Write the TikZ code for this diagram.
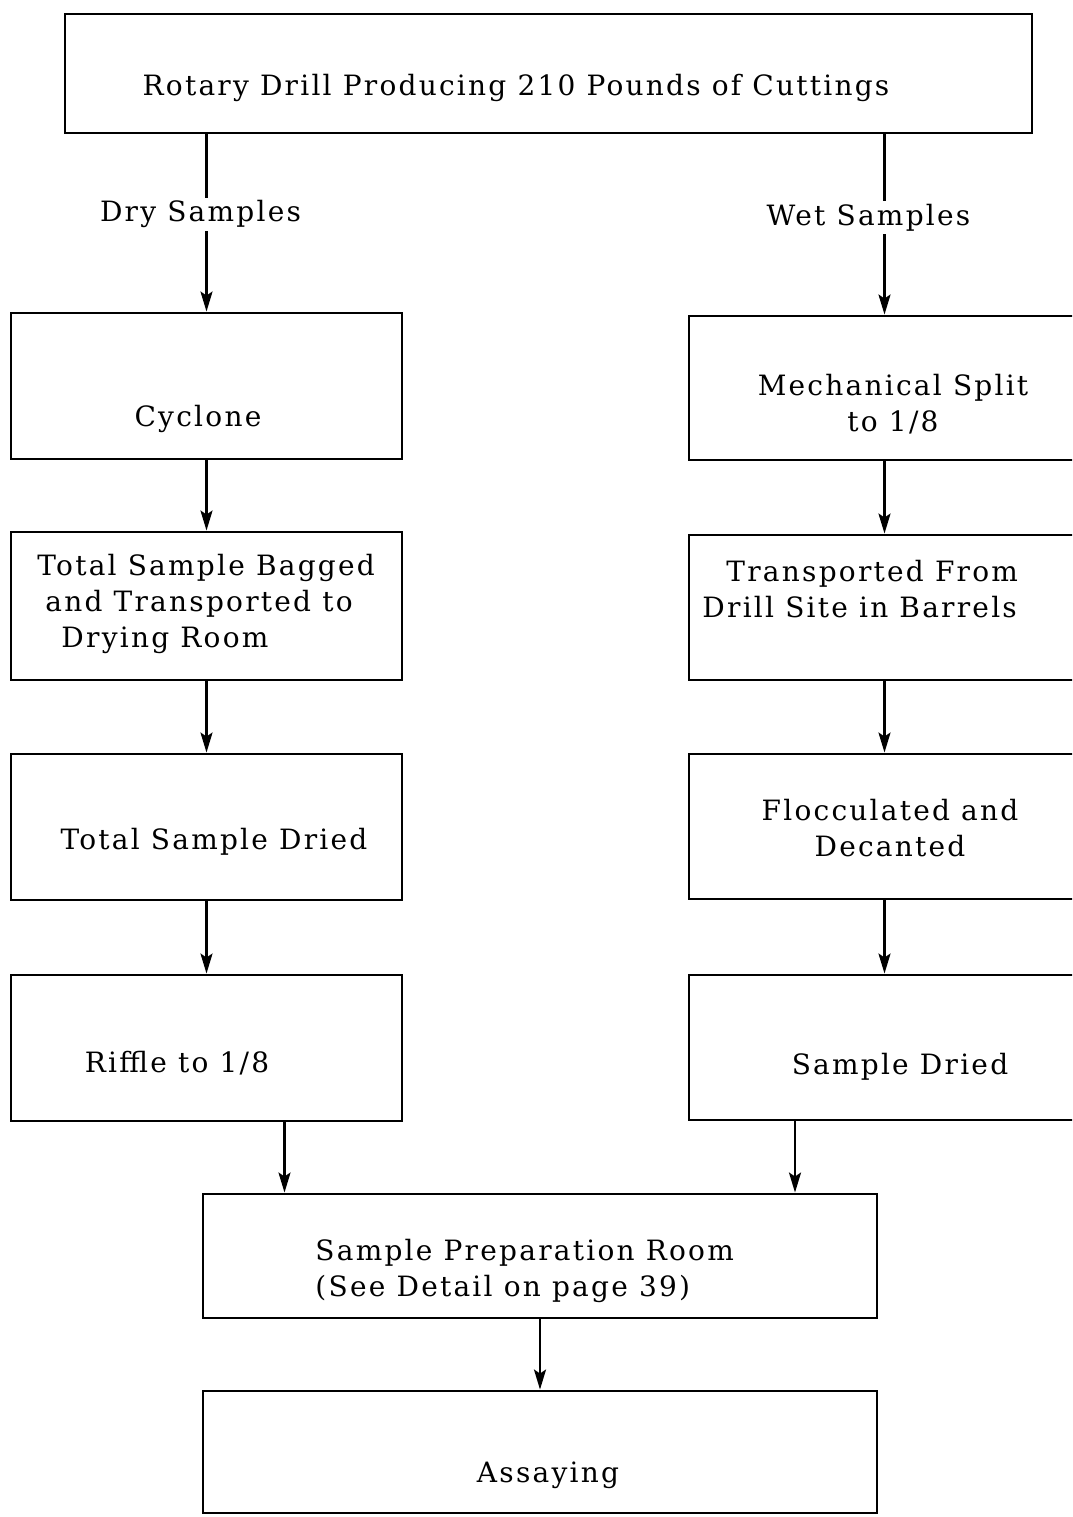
\documentclass[tikz,border=0pt]{standalone}
\usepackage{fontspec}
\usetikzlibrary{arrows.meta,calc}
\newfontfamily\flowfont{DejaVu Serif}[LetterSpace=8]

\tikzset{every picture/.style={line width=2.2pt},
  stagebox/.style={draw,rectangle,line width=2.2pt,inner sep=0pt,minimum width=391*0.75pt},
  flowtext/.style={inner sep=0.75pt,font=\flowfont\fontsize{21}{27}\selectfont},
  flowarrow/.style={-{Stealth[length=15pt,width=9pt,inset=3pt]},line width=1.8pt}}

\begin{document}
\begin{tikzpicture}[x=0.75pt,y=0.75pt,yscale=-1,xscale=1]
\useasboundingbox (0,0) rectangle (1072,1517);
\clip (0,0) rectangle (1072,1517);

%Boxes
\node (drill) [stagebox,minimum width=967*0.75pt,minimum height=119*0.75pt] at (548.5,73.5) {};
\node (cyc) [stagebox,minimum height=146*0.75pt] at (206.5,386) {};
\node (bag) [stagebox,minimum height=148*0.75pt] at (206.5,606) {};
\node (dryd) [stagebox,minimum height=146*0.75pt] at (206.5,827) {};
\node (rif) [stagebox,minimum height=146*0.75pt] at (206.5,1048) {};
\node (mech) [stagebox,minimum height=144*0.75pt] at (884.5,388) {};
\node (trans) [stagebox,minimum height=145*0.75pt] at (884.5,607.5) {};
\node (floc) [stagebox,minimum height=145*0.75pt] at (884.5,826.5) {};
\node (wetd) [stagebox,minimum height=145*0.75pt] at (884.5,1047.5) {};
\node (prep) [stagebox,minimum width=674*0.75pt,minimum height=124*0.75pt] at (540,1256) {};
\node (assay) [stagebox,minimum width=674*0.75pt,minimum height=122*0.75pt] at (540,1452) {};

% Text Node
\node (drillt) [flowtext] at (516,88) {Rotary Drill Producing 210 Pounds of Cuttings};
\node (cyct) [flowtext] at (198,419) {Cyclone};
\node (bagt) [flowtext,anchor=west,align=left] at (35,604) {Total Sample Bagged\\\hspace*{6pt}and Transported to\\\hspace*{18pt}Drying Room};
\node (drydt) [flowtext] at (214,842) {Total Sample Dried};
\node (rift) [flowtext] at (177,1063) {Riffle to 1/8};
\node (mecht) [flowtext,align=center] at (893,404) {Mechanical Split\\to 1/8};
\node (transt) [flowtext,anchor=west,align=left] at (700,589) {\hspace*{18pt}Transported From\\Drill Site in Barrels};
\node (floct) [flowtext,align=center] at (890,828) {Flocculated and\\Decanted};
\node (wetdt) [flowtext] at (900,1067) {Sample Dried};
\node (prept) [flowtext,anchor=west,align=left] at (313,1271) {Sample Preparation Room\\(See Detail on page 39)};
\node (assayt) [flowtext] at (548,1475) {Assaying};

%Arrows
\draw [flowarrow] (cyc.north |- drill.south) -- node [flowtext,fill=white,pos=0.45,xshift=-4.5pt,inner sep=2pt] (dryl) {Dry Samples} (cyc.north);
\draw [flowarrow] (mech.north |- drill.south) -- node [flowtext,fill=white,pos=0.46,xshift=-12pt,inner sep=2pt] (wetl) {Wet Samples} (mech.north);
\draw [flowarrow] (cyc) -- (bag);
\draw [flowarrow] (bag) -- (dryd);
\draw [flowarrow] (dryd) -- (rif);
\draw [flowarrow] (mech) -- (trans);
\draw [flowarrow] (trans) -- (floc);
\draw [flowarrow] (floc) -- (wetd);
\draw [flowarrow] ($(rif.south)+(78,0)$) coordinate (rifo) -- (rifo |- prep.north);
\draw [flowarrow] ($(wetd.south)+(-89.5,0)$) coordinate (wetdo) -- (wetdo |- prep.north);
\draw [flowarrow] (prep) -- (assay);
\end{tikzpicture}
\end{document}
